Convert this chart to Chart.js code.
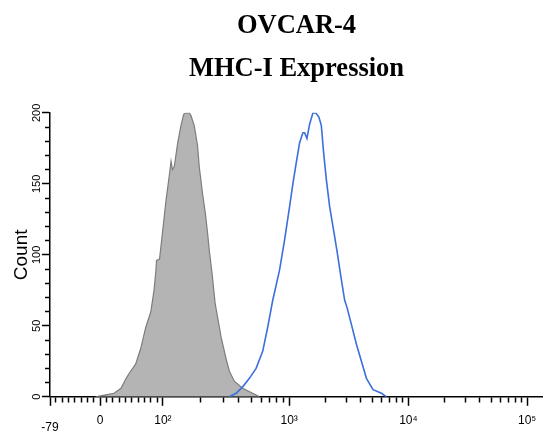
<!DOCTYPE html>
<html>
<head>
<meta charset="utf-8">
<script src="https://cdn.jsdelivr.net/npm/chart.js@4.4.1/dist/chart.umd.min.js"></script>
<style>
  html, body { margin: 0; padding: 0; background: #fff; }
  #chart { display: block; }
</style>
</head>
<body>
<canvas id="chart" width="543" height="434"></canvas>
<script>
// histogram of the isotype control (grey, filled)
const controlIntensity = [-7, 9, 22, 33, 41, 48, 56, 64, 72, 80, 85, 88, 89, 94, 99, 106, 112, 116, 119, 123, 131, 139, 146, 152, 162, 167, 177, 188, 194, 206, 217, 226, 233, 245, 259, 289, 316, 336, 368, 428, 514, 581];
const controlCount = [0, 1.4, 2.5, 6, 13, 18, 23, 34, 49, 60, 75, 89, 96, 97, 115, 139, 155, 166, 160, 162, 179, 191, 199, 200, 200, 198, 191, 177, 162, 143, 129, 115, 103, 87, 66, 42, 27, 18, 11, 6, 2.5, 0];

// histogram of the MHC-I stained cells (blue line)
const stainedIntensity = [336, 380, 428, 484, 547, 617, 676, 741, 838, 918, 1008, 1074, 1147, 1223, 1303, 1347, 1409, 1484, 1582, 1667, 1776, 1861, 1945, 2050, 2185, 2361, 2516, 2688, 2921, 3054, 3325, 3664, 4036, 4445, 5051, 5943, 6546];
const stainedCount = [0, 2.5, 7, 13, 20, 32, 49, 68, 89, 110, 134, 150, 165, 179, 186, 186, 182, 192, 200, 200, 197, 191, 172, 153, 134, 117, 103, 87, 68, 63, 51, 37, 25, 13, 5, 2.5, 0];

// axis ticks
const xMajorTicks = [-79, 0, 100, 1000, 10000, 100000];
const xMajorLabels = [['', '-79'], '0', '10²', '10³', '10⁴', '10⁵'];
const xLinearMinor = [-70, -60, -50, -40, -30, -20, -10, 10, 20, 30, 40, 50, 60, 70, 80, 90];
const xDecades = [100, 1000, 10000];
const xDecadeSteps = [2, 3, 4, 5, 6, 7, 8, 9];
const yLabelStep = 50;

// biexponential display (as exported): linear near zero, then log decades
// slightly different widths per decade, like the original plot
const SLOPE = 0.633;
const DECADE_W = [126, 119, 118.5];  // widths of the 1e2-1e3, 1e3-1e4, 1e4-1e5+ decades
const V0 = DECADE_W[0] / (SLOPE * Math.LN10);
const LOG_BREAKS = [V0, 1000, 10000, Infinity];

function biex(v) {
    if (v <= V0) return SLOPE * v;
    let d = SLOPE * V0;
    for (let i = 0; i < DECADE_W.length; i++) {
        const lo = LOG_BREAKS[i], hi = LOG_BREAKS[i + 1];
        if (v <= lo) break;
        d += DECADE_W[i] * Math.log10(Math.min(v, hi) / lo);
    }
    return d;
}
function biexInv(d) {
    if (d <= SLOPE * V0) return d / SLOPE;
    let rest = d - SLOPE * V0;
    for (let i = 0; i < DECADE_W.length; i++) {
        const lo = LOG_BREAKS[i], hi = LOG_BREAKS[i + 1];
        const w = DECADE_W[i] * Math.log10(hi / lo);
        if (rest <= w || !isFinite(w)) return lo * Math.pow(10, rest / DECADE_W[i]);
        rest -= w;
    }
}

const xMinorTicks = xLinearMinor.slice();
xDecades.forEach(dec => xDecadeSteps.forEach(s => xMinorTicks.push(dec * s)));
const xAllTicks = xMajorTicks.concat(xMinorTicks).sort((a, b) => a - b);

class BiexScale extends Chart.Scale {
    determineDataLimits() {
        this.min = this.options.min;
        this.max = this.options.max;
    }
    buildTicks() {
        return xAllTicks.filter(v => v >= this.min && v <= this.max).map(v => ({ value: v }));
    }
    configure() {
        super.configure();
        this._startPos = biex(this.min);
        this._range = biex(this.max) - this._startPos;
    }
    fit() {
        super.fit();
        // axis runs to the right edge of the picture
        this.paddingRight = 0;
    }
    getLabelForValue(v) {
        return String(v);
    }
    getPixelForValue(v) {
        return this.getPixelForDecimal((biex(v) - this._startPos) / this._range);
    }
    getValueForPixel(p) {
        return biexInv(this.getDecimalForPixel(p) * this._range + this._startPos);
    }
}
BiexScale.id = 'biex';
BiexScale.defaults = {};
Chart.register(BiexScale);

const toPoints = (xs, ys) => xs.map((x, i) => ({ x: x, y: ys[i] }));
const isXMajor = v => xMajorTicks.includes(v);

new Chart(document.getElementById('chart'), {
    type: 'line',
    data: {
        datasets: [
            {
                label: 'MHC-I',
                data: toPoints(stainedIntensity, stainedCount),
                borderColor: '#3b6fdc',
                borderWidth: 1.6,
                fill: false,
                pointRadius: 0,
                tension: 0,
                order: 0
            },
            {
                label: 'Control',
                data: toPoints(controlIntensity, controlCount),
                borderColor: '#7d7d7d',
                backgroundColor: '#b4b4b4',
                borderWidth: 1.2,
                fill: 'origin',
                pointRadius: 0,
                tension: 0,
                order: 1
            }
        ]
    },
    options: {
        responsive: false,
        animation: false,
        devicePixelRatio: 1,
        layout: { padding: { left: 10, right: 0, top: 0, bottom: -9 } },
        plugins: {
            legend: { display: false },
            tooltip: { enabled: false },
            title: {
                display: true,
                fullSize: false,
                text: ['OVCAR-4', 'MHC-I Expression'],
                color: '#000',
                font: { family: '"Times New Roman", "Liberation Serif", serif', size: 26.5, weight: 'bold', lineHeight: 1.62 },
                padding: { top: 4.5, bottom: 22.5 }
            }
        },
        scales: {
            x: {
                type: 'biex',
                position: 'bottom',
                min: -79,
                max: 136000,
                border: { display: true, color: '#000', width: 1.5 },
                grid: {
                    drawOnChartArea: false,
                    drawTicks: true,
                    tickLength: 9,
                    tickColor: '#000',
                    tickWidth: 1.5,
                    tickBorderDash: ctx => isXMajor(ctx.tick.value) ? [] : [5, 100]
                },
                ticks: {
                    autoSkip: false,
                    maxRotation: 0,
                    padding: 12,
                    color: '#000',
                    font: { family: 'Arial, "Liberation Sans", sans-serif', size: 12, lineHeight: 0.55 },
                    callback: v => {
                        const i = xMajorTicks.indexOf(v);
                        return i >= 0 ? xMajorLabels[i] : '';
                    }
                }
            },
            y: {
                type: 'linear',
                min: 0,
                max: 200,
                border: { display: true, color: '#000', width: 1.5 },
                grid: {
                    drawOnChartArea: false,
                    drawTicks: true,
                    tickLength: 8,
                    tickColor: '#000',
                    tickWidth: 1.5,
                    tickBorderDash: ctx => ctx.tick.value % yLabelStep === 0 ? [] : [0, 3, 5, 100]
                },
                ticks: {
                    stepSize: 10,
                    autoSkip: false,
                    minRotation: 90,
                    maxRotation: 90,
                    crossAlign: 'center',
                    padding: -4.5,
                    color: '#000',
                    font: { family: 'Arial, "Liberation Sans", sans-serif', size: 11 },
                    callback: v => v % yLabelStep === 0 ? String(v) : ''
                },
                title: {
                    display: true,
                    text: 'Count',
                    color: '#000',
                    font: { family: 'Arial, "Liberation Sans", sans-serif', size: 19 },
                    padding: { top: 0, bottom: 5 }
                }
            }
        }
    }
});
</script>
</body>
</html>
